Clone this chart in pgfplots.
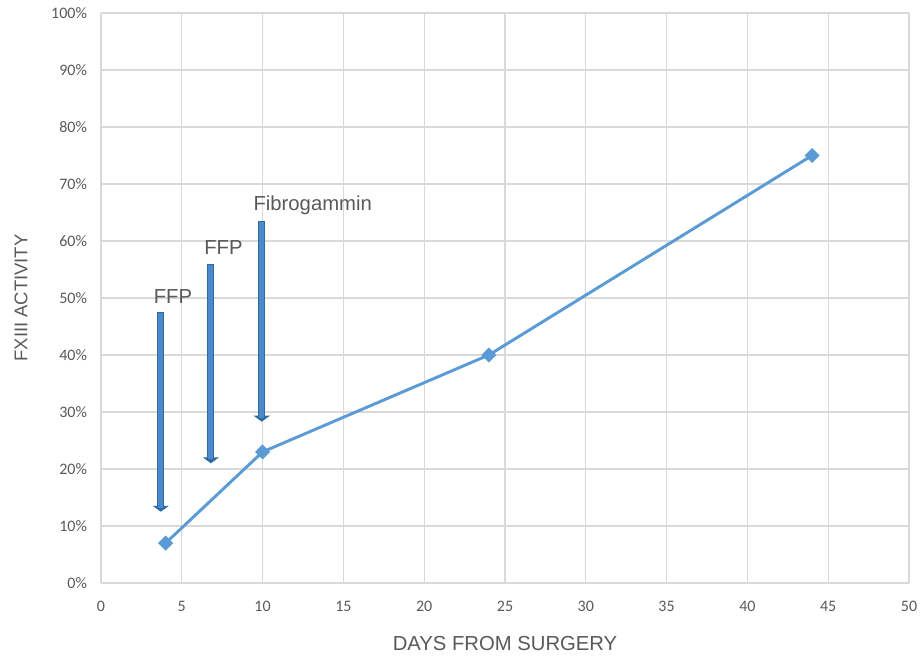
\documentclass[border=0pt]{standalone}
\usepackage{pgfplots}
\pgfplotsset{compat=1.18}
\usepackage{fontspec}
\setmainfont{Carlito}
\newfontfamily\arial{Liberation Sans}
\usetikzlibrary{arrows.meta}
\definecolor{linecol}{HTML}{5B9BD5}
\definecolor{arrfill}{HTML}{4A8ACB}
\definecolor{arrdark}{HTML}{2F6AA3}
\definecolor{txt}{HTML}{595959}
\definecolor{gridc}{HTML}{D9D9D9}

\begin{document}
\begin{tikzpicture}
\begin{axis}[
    name=ax,
    scale only axis,
    width=606pt, height=427.5pt,
    xmin=0, xmax=50, ymin=0, ymax=100,
    xtick={0,5,...,50},
    ytick={0,10,...,100},
    yticklabel={\pgfmathprintnumber{\tick}\%},
    /pgf/number format/assume math mode=true,
    grid=major,
    grid style={gridc, line width=0.9pt},
    axis line style={draw=none},
    major tick length=0pt,
    tick label style={txt, font=\fontsize{12}{14}\selectfont},
    xticklabel style={yshift=-10pt},
    yticklabel style={xshift=-7pt},
    xlabel={DAYS FROM SURGERY},
    ylabel={FXIII ACTIVITY},
    xlabel style={txt, font=\arial\fontsize{15.2}{18}\selectfont,
                  at={(axis description cs:0.5,0)}, anchor=center, yshift=-45.5pt},
    ylabel style={txt, font=\arial\fontsize{13.8}{16}\selectfont,
                  at={(axis description cs:0,0.5)}, anchor=center, yshift=60pt},
    clip=false,
]
% FXIII activity
\addplot[linecol, line width=2.2pt, mark=square*, mark size=2.9pt,
         mark options={fill=linecol, draw=linecol, rotate=45}]
  coordinates {(4,7)(10,23)(24,40)(44,75)};

% transfusion arrows
\addplot[arrdark, line width=5.4pt, -{Triangle[width=12pt,length=4.5pt]}]
  coordinates {(3.7,47.5)(3.7,12.5)};
\addplot[arrdark, line width=5.4pt, -{Triangle[width=12pt,length=4.5pt]}]
  coordinates {(6.8,56)(6.8,21)};
\addplot[arrdark, line width=5.4pt, -{Triangle[width=12pt,length=4.5pt]}]
  coordinates {(9.95,63.5)(9.95,28.3)};
\addplot[arrfill, line width=3.6pt, shorten >=3pt, shorten <=0.9pt]
  coordinates {(3.7,47.5)(3.7,12.5)};
\addplot[arrfill, line width=3.6pt, shorten >=3pt, shorten <=0.9pt]
  coordinates {(6.8,56)(6.8,21)};
\addplot[arrfill, line width=3.6pt, shorten >=3pt, shorten <=0.9pt]
  coordinates {(9.95,63.5)(9.95,28.3)};

\node[txt, font=\arial\fontsize{15.2}{18}\selectfont] at (axis cs:4.45,50.3) {FFP};
\node[txt, font=\arial\fontsize{15.2}{18}\selectfont] at (axis cs:7.58,58.8) {FFP};
\node[txt, font=\arial\fontsize{15.2}{18}\selectfont] at (axis cs:13.1,66.2) {Fibrogammin};
\end{axis}
\pgfresetboundingbox
\path[use as bounding box] ([xshift=-75.75pt,yshift=-55.5pt]ax.south west)
  rectangle ([xshift=10.5pt,yshift=9.75pt]ax.north east);
\end{tikzpicture}
\end{document}
